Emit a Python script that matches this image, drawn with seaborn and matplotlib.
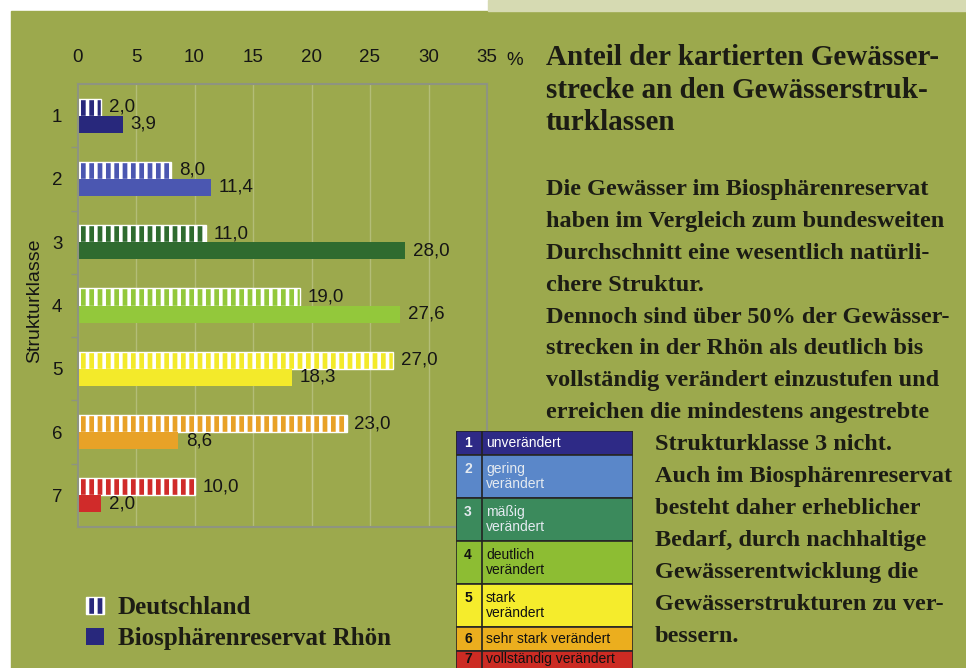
import seaborn as sns
import matplotlib.pyplot as plt
import pandas as pd
from matplotlib.patches import Rectangle

# Werte aus der Grafik (Anteil in %)
klassen = ["1", "2", "3", "4", "5", "6", "7"]
deutschland = [2.0, 8.0, 11.0, 19.0, 27.0, 23.0, 10.0]
rhoen = [3.9, 11.4, 28.0, 27.6, 18.3, 8.6, 2.0]
gebiete = ["Deutschland", "Biosphärenreservat Rhön"]
bar_colors = ["#28287c", "#4b57b1", "#2f6b2f", "#93c83b", "#f3ea2a", "#e8a227", "#d02b2a"]
x_ticks = [0, 5, 10, 15, 20, 25, 30, 35]

key_labels = ["unverändert", "gering\nverändert", "mäßig\nverändert", "deutlich\nverändert",
              "stark\nverändert", "sehr stark verändert", "vollständig verändert"]
key_colors = ["#2e2a86", "#5a87c9", "#3b8a5c", "#8dbd33", "#f5ec2c", "#ebae1e", "#cc2b23"]
key_text_colors = ["white", "#e4eaf0", "#e4eaf0", "#111111", "#111111", "#111111", "#111111"]

titel = ["Anteil der kartierten Gewässer-",
         "strecke an den Gewässerstruk-",
         "turklassen"]
text_zeilen = ["Die Gewässer im Biosphärenreservat",
               "haben im Vergleich zum bundesweiten",
               "Durchschnitt eine wesentlich natürli-",
               "chere Struktur.",
               "Dennoch sind über 50% der Gewässer-",
               "strecken in der Rhön als deutlich bis",
               "vollständig verändert einzustufen und",
               "erreichen die mindestens angestrebte",
               "Strukturklasse 3 nicht.",
               "Auch im Biosphärenreservat",
               "besteht daher erheblicher",
               "Bedarf, durch nachhaltige",
               "Gewässerentwicklung die",
               "Gewässerstrukturen zu ver-",
               "bessern."]

W, H = 966, 668
green = "#9ca94d"
ink = "#1c1c14"

sns.set_theme(style="white", rc={"axes.facecolor": "none"})
plt.rcParams["font.family"] = ["Liberation Sans", "DejaVu Sans"]
plt.rcParams["hatch.linewidth"] = 2.6

df = pd.DataFrame({
    "Strukturklasse": klassen * 2,
    "Gebiet": [gebiete[0]] * len(klassen) + [gebiete[1]] * len(klassen),
    "Anteil": deutschland + rhoen,
})

fig = plt.figure(figsize=(W / 100, H / 100), dpi=100, facecolor="white")
fig.patches.append(Rectangle((11 / W, 0), 1, 1 - 11 / H, transform=fig.transFigure,
                             color=green, zorder=-10))
fig.patches.append(Rectangle((488 / W, 1 - 11 / H), 1, 11 / H, transform=fig.transFigure,
                             color="#d6dab2", zorder=-10))

ax = fig.add_axes([77.5 / W, 1 - 527 / H, (487 - 77.5) / W, (527 - 84) / H])
sns.barplot(data=df, y="Strukturklasse", x="Anteil", hue="Gebiet", hue_order=gebiete,
            orient="h", width=0.54, dodge=True, saturation=1, legend=False, ax=ax)

for i, bar in enumerate(ax.containers[0]):
    bar.set_facecolor(bar_colors[i])
    bar.set_edgecolor("white")
    bar.set_hatch("||")
    bar.set_linewidth(1.0)
for i, bar in enumerate(ax.containers[1]):
    bar.set_facecolor(bar_colors[i])
    bar.set_edgecolor("none")

for cont, vals in zip(ax.containers, [deutschland, rhoen]):
    ax.bar_label(cont, labels=[f"{v:.1f}".replace(".", ",") for v in vals],
                 padding=5.5, fontsize=13.5, color="#151515")

ax.set_xlim(0, 35)
ax.set_xticks(x_ticks)
ax.xaxis.tick_top()
ax.tick_params(axis="x", length=0, pad=13, labelsize=13.5, labelcolor="#151515")
ax.tick_params(axis="y", which="major", length=0, pad=11, labelsize=13.5, labelcolor="#151515")
ax.set_yticks([k + 0.5 for k in range(len(klassen) - 1)], minor=True)
ax.tick_params(axis="y", which="minor", length=5, width=1, color="#8e9480", direction="out", left=True)
ax.grid(axis="x", color="#b3bd78", linewidth=1)
ax.set_axisbelow(True)
for s in ax.spines.values():
    s.set_visible(True)
    s.set_color("#8e9480")
    s.set_linewidth(1.5)
ax.set_xlabel("")
ax.set_ylabel("Strukturklasse", fontsize=14, color="#151515")
ax.yaxis.set_label_coords(-0.083, 0.51)
ax.text(1.068, 1.052, "%", transform=ax.transAxes, ha="center", va="center",
        fontsize=13.5, color="#151515")

ax.legend(handles=[ax.containers[0][0], ax.containers[1][0]], labels=gebiete,
          loc="upper left", bbox_to_anchor=(86 / W, 1 - 596 / H), bbox_transform=fig.transFigure,
          frameon=False, prop={"family": "Liberation Serif", "weight": "bold", "size": 18},
          labelcolor=ink, handlelength=0.72, handleheight=0.65, handletextpad=0.55,
          labelspacing=0.32, borderpad=0, borderaxespad=0)

# Farbschlüssel der Strukturklassen
zeilen = [lab.count("\n") + 1 for lab in key_labels]
hoehen = [5 + 19 * n for n in zeilen]
gesamt = sum(hoehen)
kax = fig.add_axes([456 / W, (1 - 431 / H) - gesamt / H, 177 / W, gesamt / H])
mitten = [sum(hoehen[:i]) + h / 2 for i, h in enumerate(hoehen)]
kax.barh(mitten, [1] * len(hoehen), height=hoehen, left=0, color=key_colors,
         edgecolor="#262626", linewidth=1.2)
kax.axvline(0.147, color="#222222", lw=1.2)
for i, (lab, c) in enumerate(zip(key_labels, key_text_colors)):
    ym = mitten[i] - (4 if i == len(key_labels) - 1 else 0)
    kax.text(0.068, ym - (zeilen[i] - 1) * 7.5, klassen[i], ha="center", va="center",
             fontsize=10, fontweight="bold", color=c)
    kax.text(0.17, ym, lab, ha="left", va="center", fontsize=10,
             linespacing=1.05, color=c)
kax.set_xlim(0, 1)
kax.set_ylim(gesamt, 0)
kax.axis("off")

# Texte rechts
for i, z in enumerate(titel):
    fig.text(546 / W, 1 - (65 + 32.5 * i) / H, z, fontsize=21, fontweight="bold",
             family="Liberation Serif", color=ink, va="baseline")
for i, z in enumerate(text_zeilen):
    x = 546 if i < 8 else 655
    fig.text(x / W, 1 - (195 + 31.9 * i) / H, z, fontsize=17.5, fontweight="bold",
             family="Liberation Serif", color=ink, va="baseline")

fig.savefig("out.png", dpi=100, facecolor="white")
